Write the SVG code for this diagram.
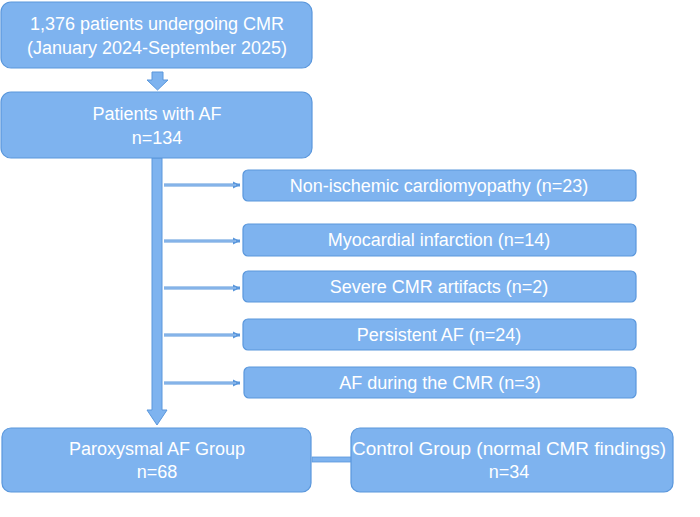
<svg xmlns="http://www.w3.org/2000/svg" width="700" height="517" viewBox="0 0 700 517">
<style>
.b{fill:#7EB3EF;stroke:#5A97DC;stroke-width:1.2}
.t{font-family:"Liberation Sans",Arial,sans-serif;font-size:18px;fill:#fff;text-anchor:middle}
.s{fill:#7EB3EF;stroke:#5A97DC;stroke-width:1}
</style>
<defs><marker id="h" markerWidth="8" markerHeight="8" refX="7" refY="4" orient="auto" markerUnits="userSpaceOnUse"><path d="M0,0.5 L7,4 L0,7.5z" fill="#5A97DC"/></marker></defs>
<rect width="700" height="517" fill="#fff"/>
<g id="connectors">
<path class="s" d="M152,72 H163 V80 H168 L157.5,90 L147,80 H152Z"/>
<path class="s" d="M152,158 H162 V410 H167 L157,425 L147,410 H152Z"/>
<g stroke="#5A97DC" stroke-width="3" fill="none" marker-end="url(#h)">
<line x1="164" y1="185" x2="240" y2="185"/>
<line x1="164" y1="241" x2="240" y2="241"/>
<line x1="164" y1="288" x2="240" y2="288"/>
<line x1="164" y1="335" x2="240" y2="335"/>
<line x1="164" y1="383" x2="240" y2="383"/>
</g>
<g stroke="#AFCFF5" stroke-width="1" fill="none">
<line x1="164" y1="185" x2="236" y2="185"/>
<line x1="164" y1="241" x2="236" y2="241"/>
<line x1="164" y1="288" x2="236" y2="288"/>
<line x1="164" y1="335" x2="236" y2="335"/>
<line x1="164" y1="383" x2="236" y2="383"/>
</g>
<rect x="312" y="457" width="40" height="5" fill="#7EB3EF" stroke="#5A97DC" stroke-width="0.8"/>
</g>
<g id="n1"><rect class="b" x="1" y="2" width="311" height="66" rx="10"/><text class="t" x="157" y="30">1,376 patients undergoing CMR</text><text class="t" x="157" y="54">(January 2024-September 2025)</text></g>
<g id="n2"><rect class="b" x="1" y="92" width="311" height="66" rx="10"/><text class="t" x="157" y="120">Patients with AF</text><text class="t" x="157" y="144">n=134</text></g>
<g id="n3"><rect class="b" x="243" y="170" width="393" height="31" rx="5"/><text class="t" x="439" y="192">Non-ischemic cardiomyopathy (n=23)</text></g>
<g id="n4"><rect class="b" x="243" y="224" width="393" height="32" rx="5"/><text class="t" x="439" y="246">Myocardial infarction (n=14)</text></g>
<g id="n5"><rect class="b" x="243" y="271" width="393" height="31" rx="5"/><text class="t" x="439" y="293">Severe CMR artifacts (n=2)</text></g>
<g id="n6"><rect class="b" x="243" y="319" width="393" height="31" rx="5"/><text class="t" x="439" y="341">Persistent AF (n=24)</text></g>
<g id="n7"><rect class="b" x="244" y="367" width="392" height="31" rx="5"/><text class="t" x="440" y="389">AF during the CMR (n=3)</text></g>
<g id="n8"><rect class="b" x="2" y="428" width="309" height="64" rx="9"/><text class="t" x="157" y="455">Paroxysmal AF Group</text><text class="t" x="157" y="478">n=68</text></g>
<g id="n9"><rect class="b" x="351" y="428" width="322" height="64" rx="9"/><text class="t" x="509" y="455" textLength="314" lengthAdjust="spacingAndGlyphs">Control Group (normal CMR findings)</text><text class="t" x="509" y="478">n=34</text></g>
</svg>
